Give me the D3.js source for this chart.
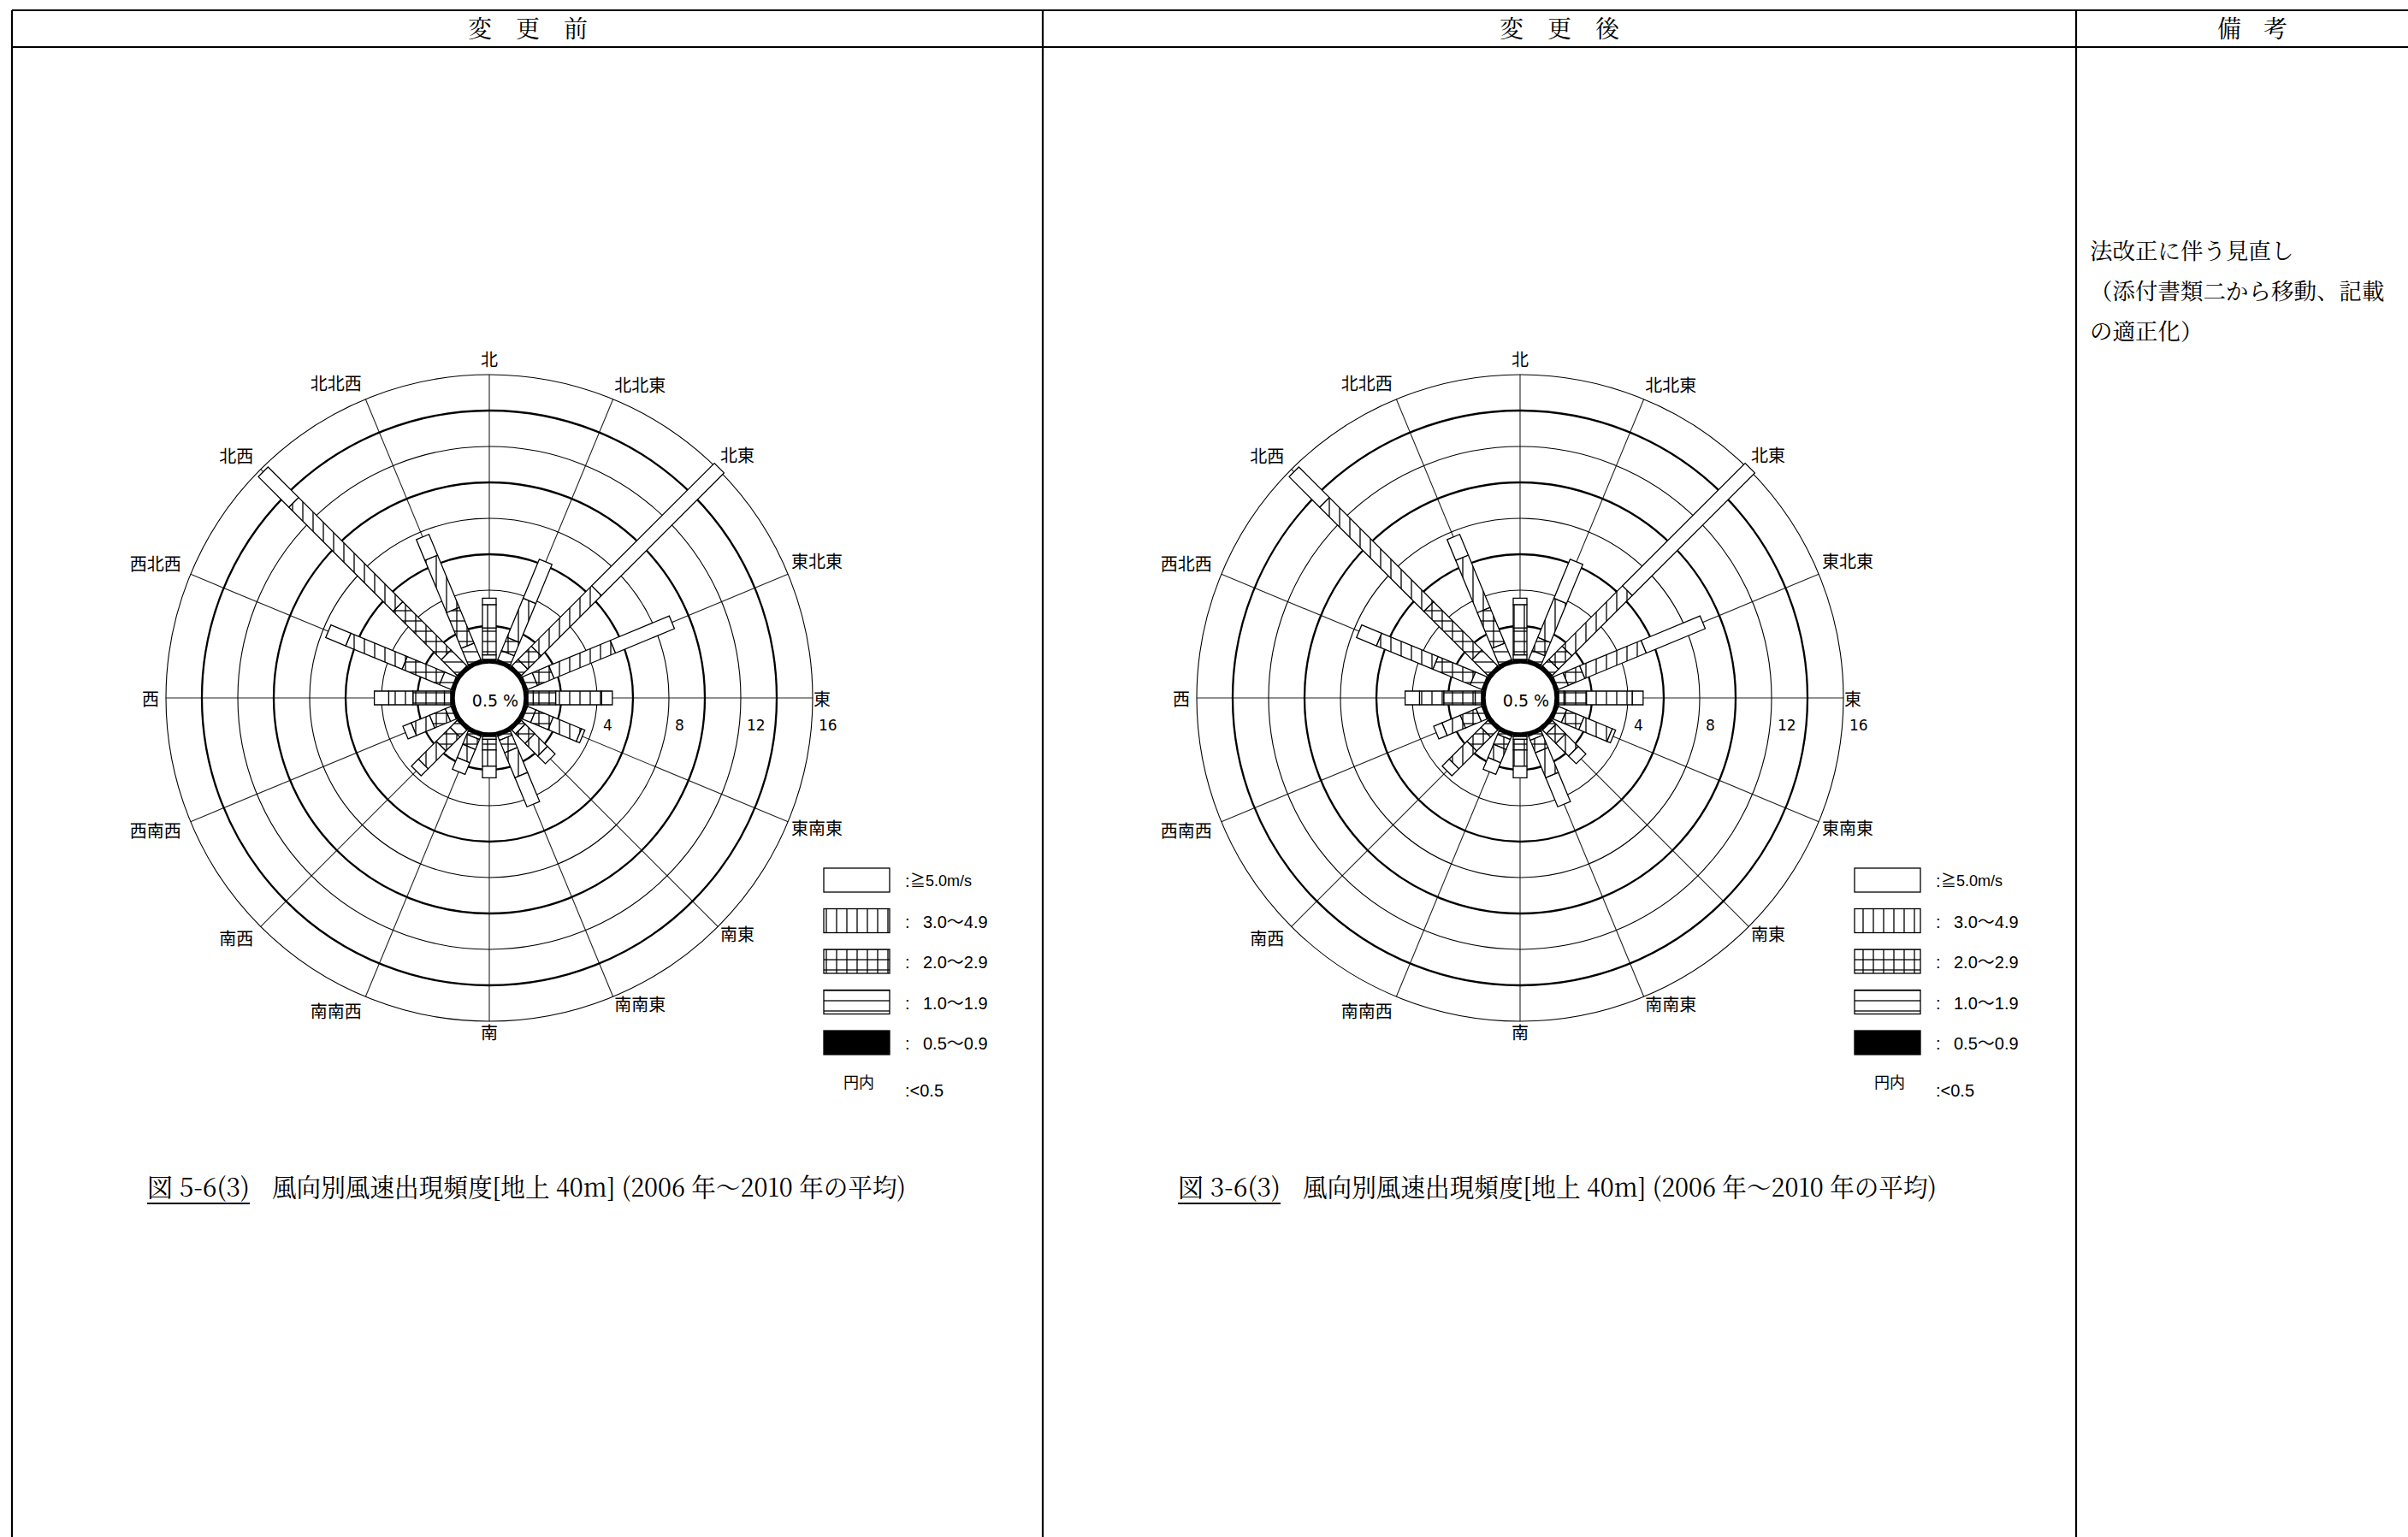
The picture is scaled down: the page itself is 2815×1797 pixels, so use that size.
<!DOCTYPE html>
<html>
<head>
<meta charset="utf-8">
<title>風向別風速出現頻度</title>
<script src="https://cdn.jsdelivr.net/npm/d3@7"></script>
<style>
  body { margin: 0; background: #fff; }
  svg { display: block; }
</style>
</head>
<body>
<svg width="2815" height="1797"></svg>
<script>
// ---- data (percent of hours, per wind-speed class) ----
var directions = ["北", "北北東", "北東", "東北東", "東", "東南東", "南東", "南南東",
                  "南", "南南西", "南西", "西南西", "西", "西北西", "北西", "北北西"];
var speedKeys = ["c05", "c10", "c20", "c30", "c50"];
// 0.5~0.9 m/s
var c05 = [0.15, 0.15, 0.15, 0.15, 0.15, 0.15, 0.15, 0.15, 0.15, 0.15, 0.15, 0.15, 0.15, 0.15, 0.15, 0.15];
// 1.0~1.9 m/s
var c10 = [0.25, 0.55, 0.5, 0.6, 0.3, 0.5, 0.3, 0.25, 0.15, 0.2, 0.55, 0.35, 0.35, 0.7, 1.25, 1.0];
// 2.0~2.9 m/s
var c20 = [1.5, 0.8, 1.05, 1.0, 1.25, 1.05, 0.75, 0.75, 0.6, 0.6, 1.1, 0.95, 1.75, 2.25, 3.8, 2.15];
// 3.0~4.9 m/s
var c30 = [1.3, 2.35, 4.75, 3.7, 2.55, 1.7, 1.0, 1.5, 0.9, 0.8, 1.4, 1.1, 1.35, 3.4, 8.2, 3.15];
// >=5.0 m/s
var c50 = [0.35, 2.35, 9.65, 3.55, 0.6, 0.2, 0.6, 1.75, 0.65, 0.7, 0.55, 0.5, 0.8, 1.2, 2.4, 1.25];
var calmText = "0.5 %";
var ringValues = [2, 4, 6, 8, 10, 12, 14, 16];
var thickRings = [2, 6, 10, 14];
var ringLabels = [4, 8, 12, 16];
var legendKeys = ["c50", "c30", "c20", "c10", "c05"];
var legendLabels = ["≧5.0m/s", "3.0〜4.9", "2.0〜2.9", "1.0〜1.9", "0.5〜0.9"];
var headers = ["変　更　前", "変　更　後", "備　考"];
var figNumbers = ["図 5-6(3)", "図 3-6(3)"];
var captionText = "風向別風速出現頻度[地上 40m] (2006 年～2010 年の平均)";
var remarks = ["法改正に伴う見直し", "（添付書類二から移動、記載", "の適正化）"];

var svg = d3.select("svg");
var defs = svg.append("defs");

function makePattern(id, lines) {
  var p = defs.append("pattern")
    .attr("id", id)
    .attr("patternUnits", "userSpaceOnUse")
    .attr("width", 12)
    .attr("height", 12);
  p.append("rect").attr("width", 12).attr("height", 12).attr("fill", "#fff");
  lines.forEach(function (l) {
    p.append("line")
      .attr("x1", l[0]).attr("y1", l[1]).attr("x2", l[2]).attr("y2", l[3])
      .attr("stroke", "#000").attr("stroke-width", 1.3);
  });
}
makePattern("pVert", [[6, 0, 6, 12]]);
makePattern("pGrid", [[6, 0, 6, 12], [0, 6, 12, 6]]);
makePattern("pHoriz", [[0, 6, 12, 6]]);

var fills = { c05: "#000", c10: "url(#pHoriz)", c20: "url(#pGrid)", c30: "url(#pVert)", c50: "#fff" };

var table = directions.map(function (d, i) {
  return { dir: d, c05: c05[i], c10: c10[i], c20: c20[i], c30: c30[i], c50: c50[i] };
});
var stacked = d3.stack().keys(speedKeys)(table);

var rScale = d3.scaleLinear().domain([0, 16]).range([42, 378]);
var aScale = d3.scaleLinear().domain([0, directions.length]).range([0, 2 * Math.PI]);
var barWidth = 16;

var jpSans = "'Noto Sans CJK JP', sans-serif";
var jpSerif = "'Noto Serif CJK JP', 'Noto Sans CJK JP', serif";

// ---- table frame ----
var frame = svg.append("g").attr("stroke", "#000").attr("stroke-width", 2.2);
frame.append("line").attr("x1", 14).attr("x2", 2815).attr("y1", 12).attr("y2", 12);
frame.append("line").attr("x1", 14).attr("x2", 2815).attr("y1", 55).attr("y2", 55);
[14, 1219, 2427].forEach(function (x) {
  frame.append("line").attr("x1", x).attr("x2", x).attr("y1", 12).attr("y2", 1797);
});

var headerX = [617, 1823, 2633];
var headerW = [140, 140, 82];
headers.forEach(function (h, i) {
  svg.append("text")
    .attr("x", headerX[i] - headerW[i] / 2)
    .attr("y", 44)
    .attr("textLength", headerW[i])
    .attr("lengthAdjust", "spacing")
    .style("font-family", jpSerif)
    .style("font-size", "28px")
    .text(h);
});

remarks.forEach(function (t, i) {
  svg.append("text")
    .attr("x", 2443)
    .attr("y", 303 + i * 47)
    .style("font-family", jpSerif)
    .style("font-size", "26.5px")
    .text(t);
});

// ---- one panel: wind rose, legend, caption ----
function drawPanel(colLeft, figNo) {
  var cx = colLeft + 558;
  var cy = 816;
  var g = svg.append("g");

  // spokes
  directions.forEach(function (d, i) {
    var a = aScale(i);
    g.append("line")
      .attr("x1", cx + Math.sin(a) * rScale(0))
      .attr("y1", cy - Math.cos(a) * rScale(0))
      .attr("x2", cx + Math.sin(a) * rScale(16))
      .attr("y2", cy - Math.cos(a) * rScale(16))
      .attr("stroke", "#222")
      .attr("stroke-width", 1.1);
  });

  // rings
  ringValues.forEach(function (v) {
    g.append("circle")
      .attr("cx", cx)
      .attr("cy", cy)
      .attr("r", rScale(v))
      .attr("fill", "none")
      .attr("stroke", "#000")
      .attr("stroke-width", thickRings.indexOf(v) >= 0 ? 2.3 : 1.1);
  });

  // bars (screen-aligned patterns, so corners are computed in page space)
  stacked.forEach(function (layer) {
    g.append("g")
      .selectAll("polygon")
      .data(layer)
      .join("polygon")
      .attr("points", function (d, i) {
        var a = aScale(i);
        var ux = Math.sin(a), uy = -Math.cos(a);
        var vx = Math.cos(a) * barWidth / 2, vy = Math.sin(a) * barWidth / 2;
        var r1 = rScale(d[0]), r2 = rScale(d[1]);
        return [
          [cx + ux * r1 + vx, cy + uy * r1 + vy],
          [cx + ux * r2 + vx, cy + uy * r2 + vy],
          [cx + ux * r2 - vx, cy + uy * r2 - vy],
          [cx + ux * r1 - vx, cy + uy * r1 - vy]
        ].map(function (p) { return p.join(","); }).join(" ");
      })
      .attr("fill", fills[layer.key])
      .attr("stroke", "#000")
      .attr("stroke-width", 1.3);
  });

  // calm circle
  g.append("circle")
    .attr("cx", cx)
    .attr("cy", cy)
    .attr("r", rScale(0))
    .attr("fill", "#fff")
    .attr("stroke", "#000")
    .attr("stroke-width", 3.4);
  g.append("text")
    .attr("x", cx + 7)
    .attr("y", cy + 10)
    .attr("text-anchor", "middle")
    .style("font-family", "'DejaVu Sans', sans-serif")
    .style("font-size", "19px")
    .text(calmText);

  // ring labels
  ringLabels.forEach(function (v) {
    g.append("text")
      .attr("x", cx + rScale(v) + 7)
      .attr("y", cy + 38)
      .style("font-family", "'DejaVu Sans', sans-serif")
      .style("font-size", "17px")
      .text(v);
  });

  // direction labels: start-anchored on the right, end-anchored on the left
  directions.forEach(function (d, i) {
    var a = aScale(i);
    var s = Math.sin(a), c = Math.cos(a);
    var anchor = "middle", lr, dy = 0;
    if (Math.abs(s) < 1e-6) {
      lr = c > 0 ? 397 : 390;
    } else if (s > 0) {
      anchor = "start";
      lr = Math.abs(c) < 1e-6 ? 379 : 382;
    } else {
      anchor = "end";
      lr = Math.abs(c) < 1e-6 ? 386 : 390;
    }
    if (Math.abs(s) > 1e-6 && Math.abs(c) > 1e-6) {
      dy = c > 0 ? (s > 0 ? -14 : -8) : 5;
    }
    g.append("text")
      .attr("x", cx + s * lr)
      .attr("y", cy - c * lr + dy)
      .attr("text-anchor", anchor)
      .attr("dominant-baseline", "central")
      .style("font-family", jpSans)
      .style("font-size", "20px")
      .text(d);
  });

  // legend
  var lg = g.append("g");
  legendKeys.forEach(function (k, i) {
    var y = 1015 + i * 47.5;
    lg.append("rect")
      .attr("x", cx + 391)
      .attr("y", y)
      .attr("width", 77)
      .attr("height", 28)
      .attr("fill", fills[k])
      .attr("stroke", "#000")
      .attr("stroke-width", 1.3);
    lg.append("text")
      .attr("x", cx + 486)
      .attr("y", y + 15)
      .attr("dominant-baseline", "central")
      .style("font-family", "'Liberation Sans', " + jpSans)
      .style("font-size", "20px")
      .text(":");
    lg.append("text")
      .attr("x", i === 0 ? cx + 492 : cx + 507)
      .attr("y", y + 15)
      .attr("dominant-baseline", "central")
      .style("font-family", "'Liberation Sans', " + jpSans)
      .style("font-size", i === 0 ? "18px" : "20px")
      .text(legendLabels[i]);
  });
  lg.append("text")
    .attr("x", cx + 432)
    .attr("y", 1264)
    .attr("text-anchor", "middle")
    .attr("dominant-baseline", "central")
    .style("font-family", jpSans)
    .style("font-size", "18px")
    .text("円内");
  lg.append("text")
    .attr("x", cx + 486)
    .attr("y", 1275)
    .attr("dominant-baseline", "central")
    .style("font-family", "'Liberation Sans', sans-serif")
    .style("font-size", "20px")
    .text(":<0.5");

  // caption
  var capY = 1399;
  g.append("text")
    .attr("x", colLeft + 158)
    .attr("y", capY)
    .attr("textLength", 120)
    .attr("lengthAdjust", "spacingAndGlyphs")
    .style("font-family", jpSerif)
    .style("font-size", "30px")
    .text(figNo);
  g.append("line")
    .attr("x1", colLeft + 158)
    .attr("x2", colLeft + 278)
    .attr("y1", capY + 8)
    .attr("y2", capY + 8)
    .attr("stroke", "#000")
    .attr("stroke-width", 1.8);
  g.append("text")
    .attr("x", colLeft + 304)
    .attr("y", capY)
    .attr("textLength", 741)
    .attr("lengthAdjust", "spacingAndGlyphs")
    .style("font-family", jpSerif)
    .style("font-size", "30px")
    .text(captionText);
}

drawPanel(14, figNumbers[0]);
drawPanel(1219, figNumbers[1]);
</script>
</body>
</html>
